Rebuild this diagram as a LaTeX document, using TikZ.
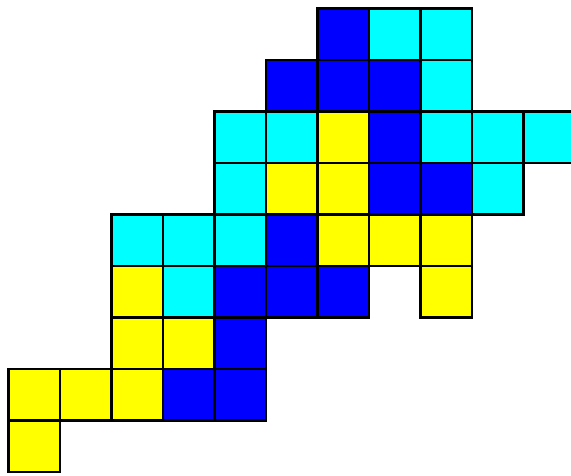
\documentclass[tikz,border=0pt]{standalone}
\usepackage{tikz}
\definecolor{myblue}{RGB}{0,0,255}
\definecolor{mycyan}{RGB}{0,255,255}
\definecolor{myyellow}{RGB}{255,255,0}
\tikzset{
  cell/.style={draw=black, line width=2pt, line join=miter},
  bluecell/.style={cell, fill=myblue},
  cyancell/.style={cell, fill=mycyan},
  yellowcell/.style={cell, fill=myyellow}
}
\newcommand{\cellsz}{51.5}
\begin{document}
\begin{tikzpicture}[x=0.03cm, y=0.03cm]
  \useasboundingbox (0,0) rectangle (571,-475);
  % blue cells (column/row, row 0 on top)
  \foreach \c/\r in {6/0, 5/1, 6/1, 7/1, 7/2, 7/3, 8/3, 5/4, 4/5, 5/5, 6/5, 4/6, 3/7, 4/7}
    \draw[bluecell] ({8.5+\c*\cellsz},{-8.5-\r*\cellsz}) rectangle ++(\cellsz,-\cellsz);
  % cyan cells
  \foreach \c/\r in {7/0, 8/0, 8/1, 4/2, 5/2, 8/2, 9/2, 10/2, 4/3, 9/3, 2/4, 3/4, 4/4, 3/5}
    \draw[cyancell] ({8.5+\c*\cellsz},{-8.5-\r*\cellsz}) rectangle ++(\cellsz,-\cellsz);
  % yellow cells
  \foreach \c/\r in {6/2, 5/3, 6/3, 6/4, 7/4, 8/4, 2/5, 8/5, 2/6, 3/6, 0/7, 1/7, 2/7, 0/8}
    \draw[yellowcell] ({8.5+\c*\cellsz},{-8.5-\r*\cellsz}) rectangle ++(\cellsz,-\cellsz);
\end{tikzpicture}
\end{document}
